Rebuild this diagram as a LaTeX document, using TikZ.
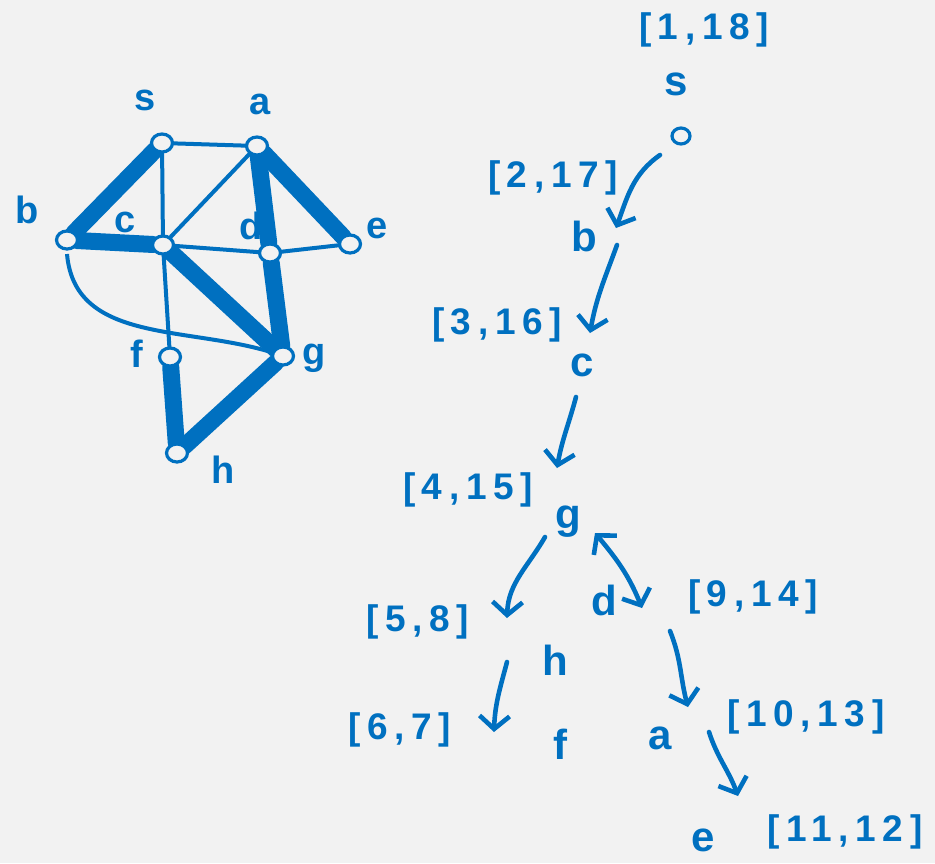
\documentclass[tikz,border=0pt]{standalone}
\usepackage{fontspec}
\setmainfont{Liberation Sans}
\usetikzlibrary{arrows.meta,shapes.geometric}
\definecolor{ink}{RGB}{0,112,192}
\definecolor{bg}{RGB}{242,242,242}
\begin{document}
\begin{tikzpicture}[x=1pt,y=-1pt,
  vtx/.style={ellipse,draw=ink,fill=bg,line width=3.2pt,minimum width=21pt,minimum height=18pt,inner sep=0pt},
  thinedge/.style={draw=ink,line width=4pt},
  thickedge/.style={draw=ink,line width=17pt,line cap=round,shorten <=10pt,shorten >=10pt},
  glbl/.style={text=ink,inner sep=0pt,font=\fontsize{38}{38}\selectfont\bfseries},
  tlbl/.style={text=ink,inner sep=0pt,font=\fontsize{42}{42}\selectfont\bfseries},
  ilbl/.style={text=ink,inner sep=0pt,font=\fontsize{37}{37}\selectfont\bfseries\addfontfeature{LetterSpace=18}},
  arr/.style={draw=ink,line width=4.6pt,line cap=round,-{Straight Barb[length=13pt,width=30pt,line width=4.6pt]}},
  darr/.style={draw=ink,line width=4.6pt,line cap=round,{Straight Barb[length=13pt,width=30pt,line width=4.6pt]}-{Straight Barb[length=13pt,width=30pt,line width=4.6pt]}}
]
\fill[bg] (0,0) rectangle (935,863);
\useasboundingbox (0,0) rectangle (935,863);

% ---------- left graph ----------
\coordinate (s) at (162,143);
\coordinate (a) at (257,146);
\coordinate (b) at (67,240);
\coordinate (c) at (163,245);
\coordinate (d) at (270,253);
\coordinate (e) at (350,244);
\coordinate (f) at (170,357);
\coordinate (g) at (283,356);
\coordinate (h) at (177,453);

\path[thinedge] (s) -- (a);
\path[thinedge] (s) -- (c);
\path[thinedge] (a) -- (c);
\path[thinedge] (c) -- (d);
\path[thinedge] (d) -- (e);
\path[thinedge] (c) -- (f);
\path[thinedge] ([yshift=-14pt]b) to[out=-85,in=160] (g);

\path[thickedge] (s) -- (b);
\path[thickedge] (b) -- (c);
\path[thickedge] (a) -- (d);
\path[thickedge] (a) -- (e);
\path[thickedge] (c) -- (g);
\path[thickedge] (d) -- (g);
\path[thickedge] (f) -- (h);
\path[thickedge] (h) -- (g);

\node[vtx] (vs) at (s) {};
\node[vtx] (va) at (a) {};
\node[vtx] (vb) at (b) {};
\node[vtx] (vc) at (c) {};
\node[vtx] (vd) at (d) {};
\node[vtx] (ve) at (e) {};
\node[vtx] (vf) at (f) {};
\node[vtx] (vg) at (g) {};
\node[vtx] (vh) at (h) {};

\node[glbl] (ls) at (145,100) {s};
\node[glbl] (la) at (260,104) {a};
\node[glbl] (lb) at (27,210) {b};
\node[glbl] (lc) at (125,222) {c};
\node[glbl] (ld) at (251,226) {d};
\node[glbl] (le) at (377,228) {e};
\node[glbl] (lf) at (137,354) {f};
\node[glbl] (lg) at (314,358) {g};
\node[glbl] (lh) at (223,470) {h};

% ---------- DFS tree ----------
\node[ilbl] (i1) at (704,30) {[1,18]};
\node[tlbl] (ts) at (676,84) {s};
\node[ellipse,draw=ink,line width=3.2pt,minimum width=18pt,minimum height=16pt,inner sep=0pt] (tsv) at (681,136) {};
\node[ilbl] (i2) at (553,178) {[2,17]};
\node[tlbl] (tb) at (584,236) {b};
\node[ilbl] (i3) at (497,325) {[3,16]};
\node[tlbl] (tc) at (582,365) {c};
\node[ilbl] (i4) at (468,490) {[4,15]};
\node[tlbl] (tg) at (568,522) {g};
\node[ilbl] (i5) at (418,622) {[5,8]};
\node[tlbl] (th) at (555,660) {h};
\node[tlbl] (td) at (604,600) {d};
\node[ilbl] (i9) at (753,597) {[9,14]};
\node[ilbl] (i6) at (400,730) {[6,7]};
\node[tlbl] (tf) at (560,744) {f};
\node[tlbl] (ta) at (660,738) {a};
\node[ilbl] (i10) at (806,717) {[10,13]};
\node[tlbl] (te) at (703,840) {e};
\node[ilbl] (i11) at (845,832) {[11,12]};

\draw[arr] ([shift={(-21,19)}]tsv.center) to[out=215,in=70] ([shift={(32,-8)}]tb.center);
\draw[arr] ([shift={(33,9)}]tb.center) to[out=250,in=80] ([shift={(8,-32)}]tc.center);
\draw[arr] ([shift={(-6,32)}]tc.center) to[out=255,in=80] ([shift={(-11,-54)}]tg.center);
\draw[arr] ([shift={(-23,15)}]tg.center) to[out=240,in=88] ([shift={(-48,-42)}]th.center);
\draw[arr] ([shift={(-48,2)}]th.center) to[out=255,in=88] ([shift={(-66,-12)}]tf.center);
\draw[darr] ([shift={(27,11)}]tg.center) to[out=-50,in=112] ([shift={(38,8)}]td.center);
\draw[arr] ([shift={(66,31)}]td.center) to[out=-68,in=105] ([shift={(28,-31)}]ta.center);
\draw[arr] ([shift={(49,-6)}]ta.center) to[out=-72,in=110] ([shift={(35,-44)}]te.center);
\end{tikzpicture}
\end{document}
